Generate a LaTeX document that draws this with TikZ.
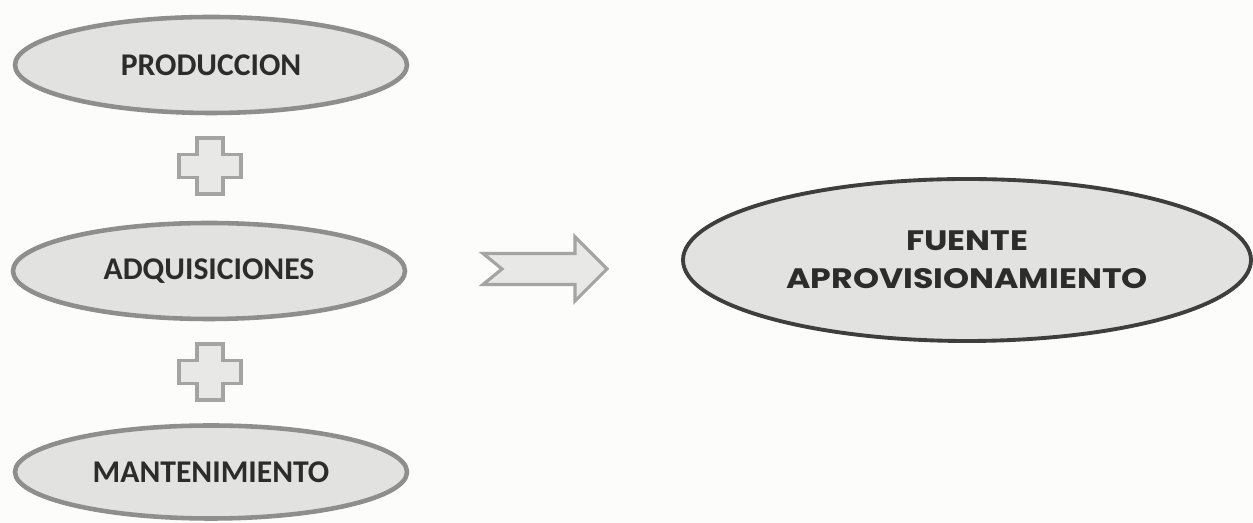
\documentclass[tikz,border=0pt]{standalone}
\usepackage{fontspec}
\setmainfont{Carlito}
\newfontfamily\fuentefont[FakeStretch=1.18]{Poppins}
\usepackage{tikz}
\usetikzlibrary{shapes.geometric}
\definecolor{scanPaper}{HTML}{FCFCFA}
\definecolor{scanFill}{HTML}{E2E2E0}
\definecolor{scanEdge}{HTML}{8E8E8C}
\definecolor{scanDark}{HTML}{3E3E3C}
\definecolor{scanText}{HTML}{2C2C2A}
\definecolor{plusFill}{HTML}{E8E8E6}
\definecolor{plusEdge}{HTML}{A4A4A2}

\begin{document}
\begin{tikzpicture}[
  source/.style={ellipse, draw=scanEdge, line width=2.6pt, fill=scanFill, inner sep=0pt,
    minimum width=7.84cm, minimum height=1.92cm, text=scanText, font=\fontsize{18}{20}\selectfont\bfseries},
  target/.style={ellipse, draw=scanDark, line width=2.2pt, fill=scanFill, inner sep=0pt, align=center,
    minimum width=11.36cm, minimum height=3.24cm, text=scanText,
    font=\fuentefont\fontsize{16}{21.6}\selectfont\bfseries},
  plusmark/.style={draw=plusEdge, line width=2.2pt, fill=plusFill, line join=miter},
  blockarrow/.style={draw=plusEdge, line width=1.8pt, fill=plusFill, line join=miter}
]
  \fill[scanPaper] (0,0) rectangle (25.06,10.46);
  \useasboundingbox (0,0) rectangle (25.06,10.46);

  \node[source] (prod) at (4.22,9.16) {PRODUCCION};
  \node[source] (adq) at (4.18,5.04) {ADQUISICIONES};
  \node[source, minimum height=1.86cm] (mant) at (4.22,1.02) {MANTENIMIENTO};

  \node[target] (fuente) at (19.34,5.26) {FUENTE\\APROVISIONAMIENTO};

  % plus signs between the sources
  \foreach \cy in {7.14,3.02} {
    \draw[plusmark] (4.2-0.26,\cy+0.56) -- (4.2+0.26,\cy+0.56) -- (4.2+0.26,\cy+0.23)
      -- (4.2+0.62,\cy+0.23) -- (4.2+0.62,\cy-0.23) -- (4.2+0.26,\cy-0.23)
      -- (4.2+0.26,\cy-0.56) -- (4.2-0.26,\cy-0.56) -- (4.2-0.26,\cy-0.23)
      -- (4.2-0.62,\cy-0.23) -- (4.2-0.62,\cy+0.23) -- (4.2-0.26,\cy+0.23) -- cycle;
  }

  % notched arrow towards the target
  \coordinate (arrowTail) at (9.66,5.08);
  \draw[blockarrow] (arrowTail) ++(0,0.31) -- (11.5,5.39) -- (11.5,5.72) -- (12.14,5.08)
    -- (11.5,4.44) -- (11.5,4.77) -- (9.66,4.77) -- (10.04,5.08) -- cycle;
\end{tikzpicture}
\end{document}
